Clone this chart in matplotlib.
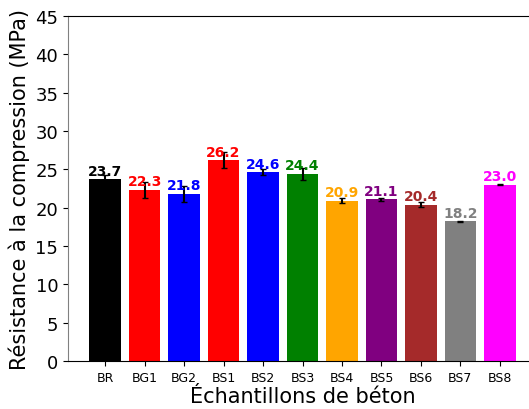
import matplotlib.pyplot as plt

samples = ["BR", "BG1", "BG2", "BS1", "BS2", "BS3", "BS4", "BS5", "BS6", "BS7", "BS8"]
strength = [23.7, 22.3, 21.8, 26.2, 24.6, 24.4, 20.9, 21.1, 20.4, 18.2, 23.0]
errors = [0.5, 1.0, 1.0, 1.0, 0.4, 0.8, 0.3, 0.2, 0.3, 0.1, 0.1]
colors = ["black", "red", "blue", "red", "blue", "green",
          "orange", "purple", "brown", "gray", "magenta"]

fig = plt.figure(figsize=(5.29, 4.10), dpi=100)
ax = fig.add_axes([68 / 529, 1 - 362 / 410, (537 - 68) / 529, (362 - 17) / 410])

x = range(len(samples))
ax.bar(x, strength, color=colors, width=0.8,
       yerr=errors, capsize=2, ecolor="black", error_kw={"elinewidth": 1.5})

for i, v in enumerate(strength):
    ax.text(i, v + 0.2, f"{v:.1f}", ha="center", va="bottom",
            color=colors[i], fontsize=10, fontweight="bold")

ax.set_xticks(list(x))
ax.set_xticklabels(samples, fontsize=9)
ax.tick_params(axis="y", labelsize=13)
ax.set_ylim(0, 45)
ax.set_xlabel("Échantillons de béton", fontsize=15, labelpad=2)
ax.set_ylabel("Résistance à la compression (MPa)", fontsize=15)
ax.spines["left"].set_color("gray")

fig.savefig("out.png", dpi=100)
